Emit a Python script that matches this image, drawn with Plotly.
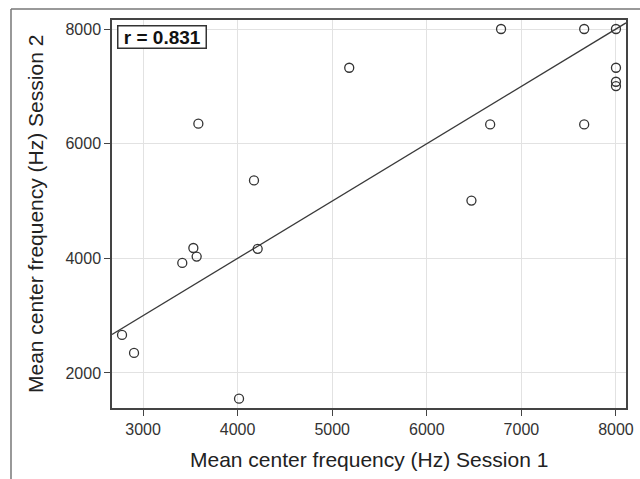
import numpy as np
import plotly.graph_objects as go

# Data (Hz)
session1 = [2778, 2905, 3415, 3532, 3567, 4212, 4015, 3585, 4173, 5180,
            6785, 7664, 8000, 8000, 8000, 8000, 6670, 7664, 6472]
session2 = [2664, 2350, 3920, 4180, 4030, 4165, 1551, 6349, 5359, 7324,
            8000, 8000, 8000, 7324, 7080, 7004, 6335, 6335, 5008]
x_ticks = [3000, 4000, 5000, 6000, 7000, 8000]
y_ticks = [2000, 4000, 6000, 8000]
x_range = [2672, 8106]
y_range = [1389, 8157]
fit_slope = 1.0
fit_intercept = 0.0
r_label = "r = 0.831"
x_title = "Mean center frequency (Hz) Session 1"
y_title = "Mean center frequency (Hz) Session 2"

fit_x = np.array(x_range, dtype=float)
fit_y = fit_slope * fit_x + fit_intercept

FONT = "Liberation Sans, Arial, Helvetica, sans-serif"

fig = go.Figure()
fig.add_trace(go.Scatter(
    x=fit_x, y=fit_y, mode="lines",
    line=dict(color="#3a3a3a", width=1.3),
    hoverinfo="skip", showlegend=False, cliponaxis=True,
))
fig.add_trace(go.Scatter(
    x=session1, y=session2, mode="markers",
    marker=dict(symbol="circle-open", size=9, color="#333333",
                line=dict(width=1.3, color="#333333")),
    showlegend=False, cliponaxis=False,
))

axis_common = dict(
    showgrid=True, gridcolor="#e2e2e2", gridwidth=1,
    showline=True, linecolor="#444444", linewidth=1.5, mirror=True,
    ticks="outside", ticklen=6, tickwidth=1.2, tickcolor="#444444",
    tickfont=dict(family=FONT, size=16, color="#333333"),
    zeroline=False, automargin=False,
)

fig.update_layout(
    width=640, height=479,
    margin=dict(l=112, r=14, t=20, b=71, pad=0),
    paper_bgcolor="white", plot_bgcolor="white",
    font=dict(family=FONT, color="#222222"),
    xaxis=dict(range=x_range, tickvals=x_ticks, **axis_common),
    yaxis=dict(range=y_range, tickvals=y_ticks, **axis_common),
    annotations=[
        dict(text="<b>\u00a0" + r_label + "\u00a0</b>", xref="paper", yref="paper",
             x=0.0097, y=0.988, xanchor="left", yanchor="top",
             showarrow=False, font=dict(family=FONT, size=19, color="#111111"),
             bordercolor="#333333", borderwidth=1.5, borderpad=0,
             bgcolor="white"),
        dict(text=x_title, xref="paper", yref="paper", x=0.5, y=-0.134,
             xanchor="center", yanchor="middle", showarrow=False,
             font=dict(family=FONT, size=21, color="#222222")),
        dict(text=y_title, xref="paper", yref="paper", x=-0.1498, y=0.5,
             xanchor="center", yanchor="middle", textangle=-90, showarrow=False,
             font=dict(family=FONT, size=21, color="#222222")),
    ],
    shapes=[
        dict(type="line", xref="paper", yref="paper",
             x0=-0.1965, x1=-0.1965, y0=-0.2, y1=1.0284,
             line=dict(color="#777777", width=1.5)),
        dict(type="line", xref="paper", yref="paper",
             x0=-0.1965, x1=1.05, y0=1.0284, y1=1.0284,
             line=dict(color="#777777", width=1.5)),
    ],
)

fig.write_html("out.html")
